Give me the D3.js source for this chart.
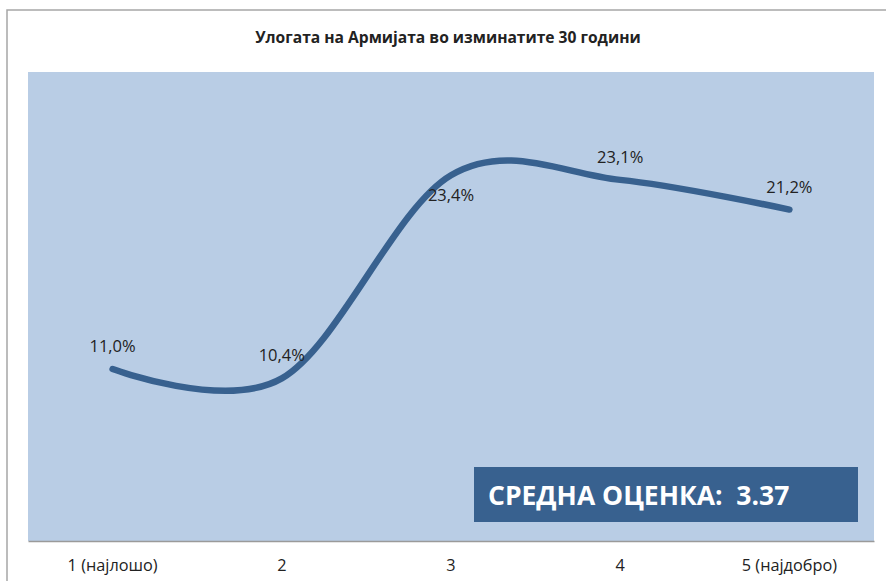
<!DOCTYPE html>
<html>
<head>
<meta charset="utf-8">
<script src="https://cdn.jsdelivr.net/npm/d3@7"></script>
<style>
  body { margin: 0; background: #fff; }
  text { font-family: "Open Sans", "Noto Sans", sans-serif; }
</style>
</head>
<body>
<div id="chart"></div>
<script>
// ------------------------------------------------------------
// Data
// ------------------------------------------------------------
const categories = ['1 (најлошо)', '2', '3', '4', '5 (најдобро)'];
const values = [11.0, 10.4, 23.4, 23.1, 21.2];
// where Excel put each data label relative to its point
const labelPlacement = ['above', 'above', 'below', 'above', 'above'];
const yDomain = [0, 30];

const TITLE = 'Улогата на Армијата во изминатите 30 години';
const BADGE = 'СРЕДНА ОЦЕНКА:  3.37';

const COLORS = {
  plot: '#b9cde5',
  line: '#38618f',
  badge: '#38618f',
  border: '#a6a6a6',
  axis: '#9a9a9a',
  text: '#222',
};

const W = 886, H = 581;
const plot = { left: 28, right: 874, top: 72, bottom: 541 };

const svg = d3.select('#chart').append('svg')
  .attr('width', W)
  .attr('height', H);

// outer chart border (bottom/right run off the picture)
svg.append('rect')
  .attr('x', 7).attr('y', 10)
  .attr('width', W + 10).attr('height', H + 10)
  .attr('fill', '#fff')
  .attr('stroke', COLORS.border)
  .attr('stroke-width', 1.5);

// title
svg.append('text')
  .attr('x', 448).attr('y', 43)
  .attr('text-anchor', 'middle')
  .attr('font-size', 15.6)
  .attr('font-weight', 'bold')
  .attr('fill', COLORS.text)
  .text(TITLE);

// plot area
svg.append('rect')
  .attr('x', plot.left).attr('y', plot.top)
  .attr('width', plot.right - plot.left)
  .attr('height', plot.bottom - plot.top)
  .attr('fill', COLORS.plot);

// scales
const x = d3.scaleBand()
  .domain(categories)
  .range([plot.left, plot.right]);

const y = d3.scaleLinear()
  .domain(yDomain)
  .range([plot.bottom, plot.top]);

const cx = (c) => x(c) + x.bandwidth() / 2;

// category axis
const xAxis = svg.append('g')
  .attr('transform', 'translate(0,' + plot.bottom + ')')
  .call(d3.axisBottom(x).tickSize(0).tickPadding(18));
xAxis.select('.domain').attr('stroke', COLORS.axis).attr('stroke-width', 1.5);
xAxis.selectAll('text')
  .attr('font-size', 16.3)
  .attr('fill', COLORS.text)
  .style('font-family', '"Open Sans", sans-serif');

// smoothed line (Excel smoothing ~ Catmull-Rom / cardinal 0)
const pts = categories.map((c, i) => ({ c, v: values[i], pos: labelPlacement[i] }));
const line = d3.line()
  .x((d) => cx(d.c))
  .y((d) => y(d.v))
  .curve(d3.curveCardinal.tension(0));

svg.append('path')
  .datum(pts)
  .attr('d', line)
  .attr('fill', 'none')
  .attr('stroke', COLORS.line)
  .attr('stroke-width', 6.5)
  .attr('stroke-linecap', 'round');

// data labels
svg.selectAll('.val')
  .data(pts)
  .enter()
  .append('text')
  .attr('class', 'val')
  .attr('x', (d) => cx(d.c))
  .attr('y', (d) => y(d.v) + (d.pos === 'above' ? -17 : 26))
  .attr('text-anchor', 'middle')
  .attr('font-size', 16.5)
  .attr('fill', COLORS.text)
  .text((d) => d3.format('.1f')(d.v).replace('.', ',') + '%');

// average-score badge
svg.append('rect')
  .attr('x', 474).attr('y', 467)
  .attr('width', 384).attr('height', 55)
  .attr('fill', COLORS.badge);

svg.append('text')
  .attr('x', 488).attr('y', 505)
  .attr('font-size', 26.5)
  .attr('font-weight', 'bold')
  .attr('fill', '#fff')
  .attr('xml:space', 'preserve')
  .style('white-space', 'pre')
  .text(BADGE);
</script>
</body>
</html>
